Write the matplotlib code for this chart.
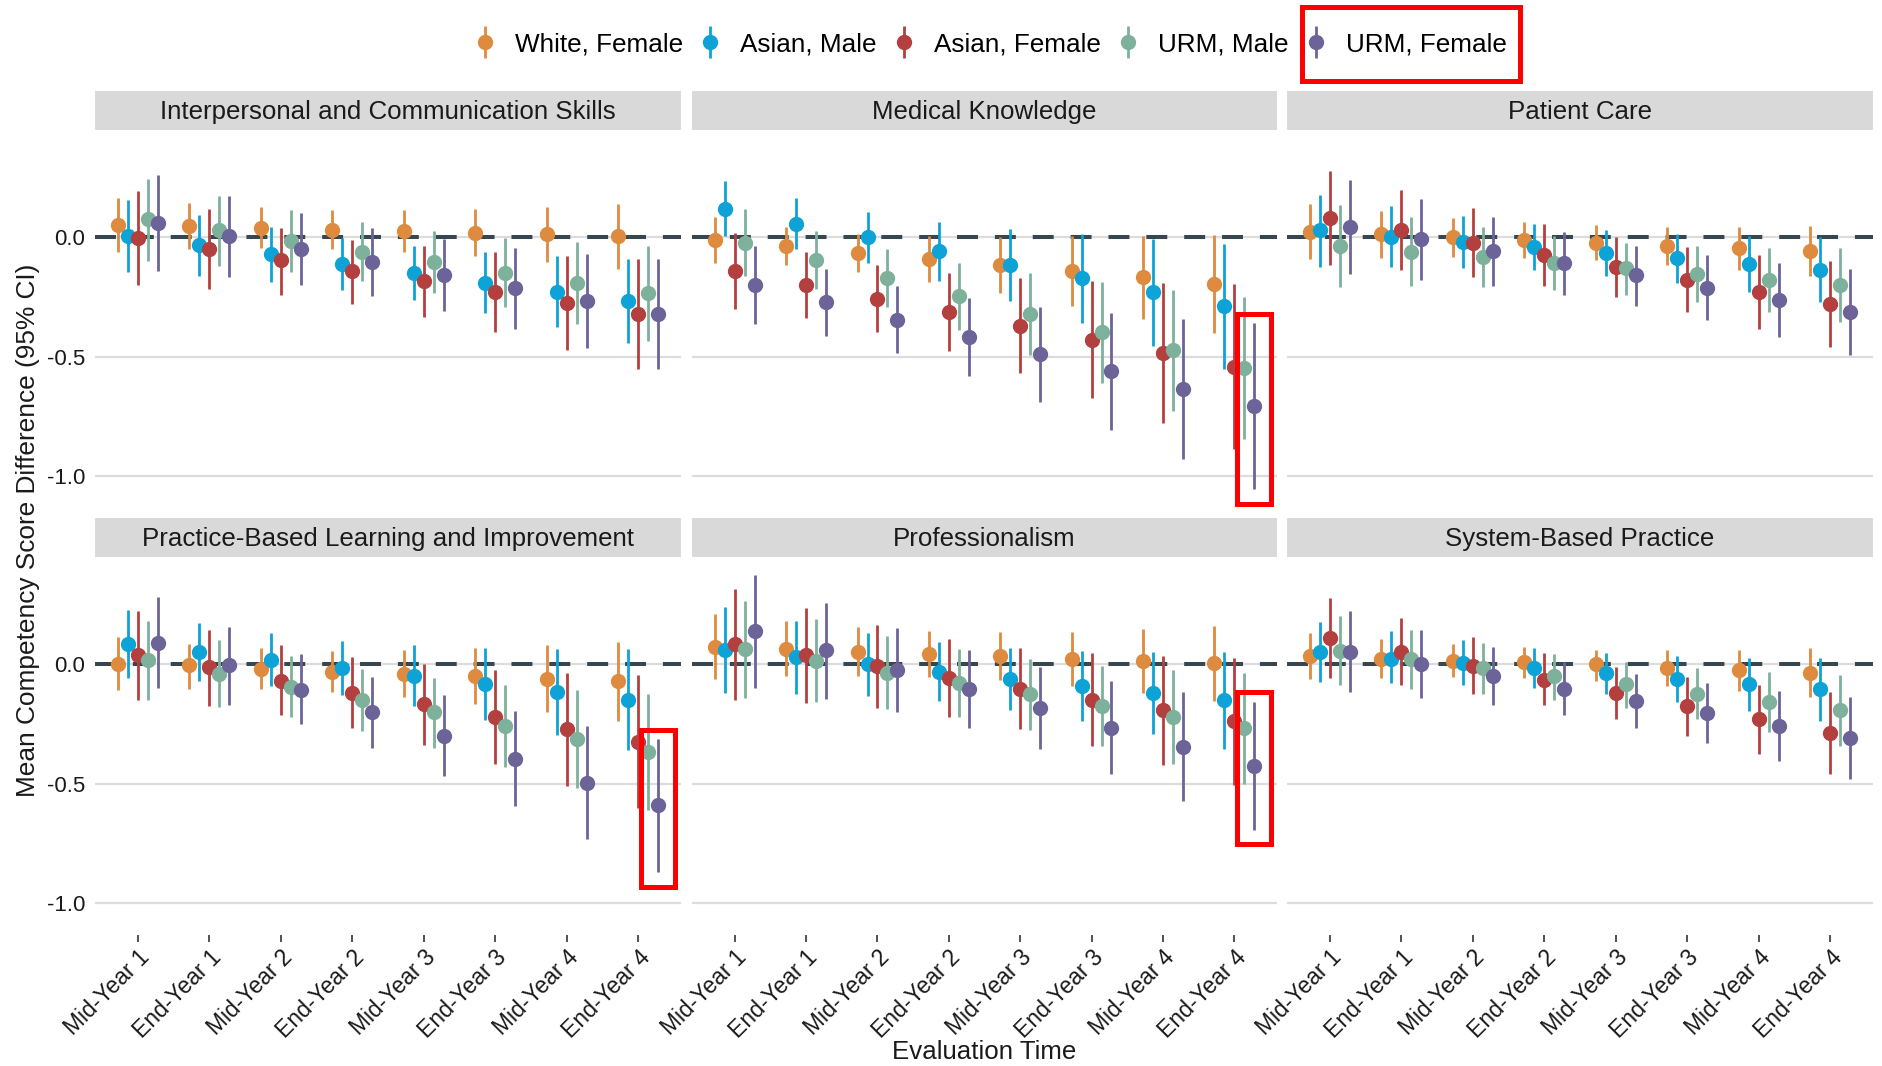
import numpy as np
import matplotlib
matplotlib.use("Agg")
import matplotlib.pyplot as plt
from matplotlib.patches import Rectangle
from matplotlib.container import ErrorbarContainer
from matplotlib.legend_handler import HandlerErrorbar

plt.rcParams['font.family'] = ['Liberation Sans', 'DejaVu Sans']

# categories / groups
times = ['Mid-Year 1', 'End-Year 1', 'Mid-Year 2', 'End-Year 2',
         'Mid-Year 3', 'End-Year 3', 'Mid-Year 4', 'End-Year 4']
groups = ['White, Female', 'Asian, Male', 'Asian, Female', 'URM, Male', 'URM, Female']
colors = ['#DE8B3F', '#0EA3D7', '#B3403F', '#7EB19B', '#6C6399']
competencies = ['Interpersonal and Communication Skills', 'Medical Knowledge', 'Patient Care',
                'Practice-Based Learning and Improvement', 'Professionalism', 'System-Based Practice']
highlight = ['Medical Knowledge', 'Practice-Based Learning and Improvement', 'Professionalism']

# Interpersonal and Communication Skills (rows = groups, cols = times)
ics_est = [[0.052, 0.046, 0.039, 0.032, 0.027, 0.018, 0.013, 0.006],
           [0.006, -0.032, -0.070, -0.112, -0.151, -0.190, -0.229, -0.267],
           [-0.004, -0.047, -0.095, -0.140, -0.184, -0.230, -0.274, -0.320],
           [0.075, 0.029, -0.017, -0.061, -0.103, -0.148, -0.191, -0.235],
           [0.060, 0.004, -0.049, -0.103, -0.156, -0.212, -0.267, -0.321]]
ics_lo = [[-0.063, -0.050, -0.046, -0.049, -0.061, -0.080, -0.103, -0.131],
          [-0.144, -0.161, -0.186, -0.219, -0.263, -0.317, -0.377, -0.441],
          [-0.201, -0.216, -0.240, -0.281, -0.332, -0.397, -0.471, -0.550],
          [-0.099, -0.120, -0.147, -0.183, -0.235, -0.293, -0.362, -0.434],
          [-0.140, -0.165, -0.200, -0.246, -0.307, -0.383, -0.465, -0.553]]
ics_hi = [[0.166, 0.145, 0.126, 0.115, 0.113, 0.117, 0.127, 0.141],
          [0.156, 0.095, 0.042, -0.001, -0.036, -0.061, -0.077, -0.091],
          [0.194, 0.120, 0.040, -0.010, -0.035, -0.061, -0.078, -0.089],
          [0.243, 0.175, 0.115, 0.063, 0.027, -0.001, -0.021, -0.035],
          [0.260, 0.175, 0.102, 0.039, -0.007, -0.043, -0.070, -0.091]]

# Medical Knowledge
mk_est = [[-0.011, -0.038, -0.064, -0.091, -0.117, -0.142, -0.168, -0.194],
          [0.117, 0.057, 0.000, -0.059, -0.116, -0.172, -0.230, -0.288],
          [-0.142, -0.200, -0.257, -0.313, -0.372, -0.429, -0.486, -0.542],
          [-0.022, -0.096, -0.172, -0.246, -0.321, -0.397, -0.472, -0.547],
          [-0.200, -0.272, -0.345, -0.418, -0.490, -0.561, -0.635, -0.708]]
mk_lo = [[-0.106, -0.117, -0.145, -0.186, -0.235, -0.286, -0.344, -0.399],
         [0.007, -0.047, -0.106, -0.182, -0.267, -0.359, -0.454, -0.552],
         [-0.302, -0.337, -0.395, -0.475, -0.570, -0.673, -0.779, -0.888],
         [-0.162, -0.218, -0.293, -0.388, -0.494, -0.609, -0.728, -0.846],
         [-0.362, -0.413, -0.486, -0.581, -0.690, -0.809, -0.930, -1.056]]
mk_hi = [[0.084, 0.042, 0.014, 0.006, 0.000, 0.005, 0.006, 0.008],
         [0.237, 0.163, 0.105, 0.066, 0.035, 0.014, -0.008, -0.027],
         [0.017, -0.060, -0.117, -0.151, -0.172, -0.183, -0.191, -0.196],
         [0.119, 0.025, -0.050, -0.108, -0.151, -0.187, -0.219, -0.249],
         [-0.038, -0.134, -0.205, -0.256, -0.290, -0.317, -0.342, -0.360]]

# Patient Care
pc_est = [[0.024, 0.013, 0.001, -0.011, -0.024, -0.035, -0.046, -0.059],
          [0.029, 0.003, -0.020, -0.041, -0.066, -0.088, -0.112, -0.135],
          [0.082, 0.032, -0.022, -0.074, -0.123, -0.179, -0.228, -0.279],
          [-0.036, -0.061, -0.082, -0.108, -0.130, -0.154, -0.177, -0.200],
          [0.043, -0.007, -0.059, -0.109, -0.159, -0.211, -0.263, -0.313]]
pc_lo = [[-0.092, -0.087, -0.084, -0.087, -0.096, -0.115, -0.137, -0.162],
         [-0.122, -0.123, -0.127, -0.138, -0.161, -0.190, -0.230, -0.272],
         [-0.116, -0.138, -0.166, -0.203, -0.249, -0.311, -0.383, -0.459],
         [-0.207, -0.205, -0.208, -0.219, -0.242, -0.271, -0.311, -0.356],
         [-0.155, -0.177, -0.204, -0.240, -0.288, -0.348, -0.418, -0.494]]
pc_hi = [[0.138, 0.109, 0.082, 0.064, 0.050, 0.043, 0.042, 0.046],
         [0.177, 0.131, 0.089, 0.056, 0.031, 0.013, 0.004, 0.003],
         [0.279, 0.198, 0.123, 0.057, 0.000, -0.042, -0.074, -0.099],
         [0.134, 0.085, 0.042, 0.006, -0.022, -0.038, -0.043, -0.043],
         [0.242, 0.162, 0.087, 0.021, -0.034, -0.075, -0.109, -0.133]]

# Practice-Based Learning and Improvement
pbli_est = [[0.001, -0.004, -0.021, -0.031, -0.041, -0.047, -0.060, -0.071],
            [0.085, 0.052, 0.020, -0.015, -0.047, -0.081, -0.115, -0.148],
            [0.038, -0.010, -0.068, -0.119, -0.168, -0.222, -0.271, -0.324],
            [0.017, -0.042, -0.094, -0.149, -0.201, -0.258, -0.313, -0.369],
            [0.091, -0.004, -0.106, -0.201, -0.300, -0.398, -0.496, -0.591]]
pbli_lo = [[-0.108, -0.102, -0.103, -0.115, -0.137, -0.165, -0.200, -0.236],
           [-0.059, -0.071, -0.092, -0.127, -0.176, -0.232, -0.296, -0.359],
           [-0.151, -0.176, -0.212, -0.268, -0.338, -0.419, -0.510, -0.601],
           [-0.148, -0.179, -0.221, -0.278, -0.349, -0.429, -0.518, -0.610],
           [-0.101, -0.169, -0.251, -0.352, -0.468, -0.595, -0.732, -0.872]]
pbli_hi = [[0.113, 0.085, 0.067, 0.057, 0.060, 0.070, 0.080, 0.094],
           [0.230, 0.175, 0.130, 0.098, 0.080, 0.070, 0.066, 0.066],
           [0.225, 0.145, 0.080, 0.032, 0.000, -0.024, -0.036, -0.046],
           [0.182, 0.102, 0.035, -0.018, -0.056, -0.085, -0.108, -0.126],
           [0.281, 0.158, 0.043, -0.052, -0.130, -0.196, -0.258, -0.313]]

# Professionalism
prof_est = [[0.074, 0.066, 0.054, 0.045, 0.035, 0.024, 0.014, 0.004],
            [0.060, 0.032, 0.001, -0.032, -0.061, -0.089, -0.120, -0.151],
            [0.085, 0.038, -0.008, -0.056, -0.102, -0.148, -0.191, -0.239],
            [0.063, 0.014, -0.034, -0.078, -0.126, -0.175, -0.221, -0.268],
            [0.141, 0.059, -0.022, -0.103, -0.184, -0.265, -0.346, -0.425]]
prof_lo = [[-0.063, -0.050, -0.047, -0.052, -0.064, -0.089, -0.119, -0.155],
           [-0.119, -0.122, -0.131, -0.155, -0.190, -0.239, -0.293, -0.353],
           [-0.151, -0.161, -0.183, -0.219, -0.272, -0.341, -0.420, -0.507],
           [-0.142, -0.158, -0.186, -0.222, -0.275, -0.342, -0.418, -0.501],
           [-0.098, -0.144, -0.198, -0.268, -0.355, -0.458, -0.573, -0.694]]
prof_hi = [[0.211, 0.180, 0.155, 0.138, 0.134, 0.135, 0.147, 0.159],
           [0.240, 0.183, 0.133, 0.094, 0.070, 0.056, 0.053, 0.052],
           [0.317, 0.236, 0.165, 0.108, 0.068, 0.046, 0.035, 0.028],
           [0.265, 0.189, 0.120, 0.063, 0.022, -0.007, -0.025, -0.035],
           [0.376, 0.258, 0.154, 0.060, -0.010, -0.071, -0.116, -0.156]]

# System-Based Practice
sbp_est = [[0.036, 0.024, 0.015, 0.008, 0.001, -0.014, -0.025, -0.034],
           [0.053, 0.024, 0.007, -0.015, -0.036, -0.061, -0.081, -0.105],
           [0.110, 0.054, -0.006, -0.064, -0.119, -0.176, -0.230, -0.289],
           [0.057, 0.021, -0.015, -0.050, -0.084, -0.122, -0.156, -0.190],
           [0.054, 0.000, -0.050, -0.102, -0.154, -0.205, -0.257, -0.310]]
sbp_lo = [[-0.063, -0.056, -0.054, -0.059, -0.070, -0.089, -0.112, -0.137],
          [-0.073, -0.077, -0.085, -0.101, -0.123, -0.158, -0.194, -0.237],
          [-0.059, -0.088, -0.126, -0.172, -0.230, -0.300, -0.377, -0.461],
          [-0.088, -0.103, -0.122, -0.148, -0.184, -0.230, -0.285, -0.344],
          [-0.115, -0.141, -0.172, -0.214, -0.268, -0.331, -0.404, -0.482]]
sbp_hi = [[0.133, 0.108, 0.085, 0.073, 0.060, 0.060, 0.060, 0.067],
          [0.179, 0.138, 0.101, 0.070, 0.046, 0.035, 0.028, 0.027],
          [0.277, 0.193, 0.116, 0.049, -0.010, -0.052, -0.085, -0.117],
          [0.203, 0.144, 0.089, 0.045, 0.011, -0.014, -0.032, -0.043],
          [0.223, 0.144, 0.073, 0.010, -0.039, -0.078, -0.110, -0.137]]

panel_data = [(ics_est, ics_lo, ics_hi), (mk_est, mk_lo, mk_hi), (pc_est, pc_lo, pc_hi),
              (pbli_est, pbli_lo, pbli_hi), (prof_est, prof_lo, prof_hi), (sbp_est, sbp_lo, sbp_hi)]

W, H = 1883, 1066
fig = plt.figure(figsize=(W / 100, H / 100), dpi=100)
fig.patch.set_facecolor('white')

# layout in pixels (left, right) per column, (top, bottom) per row
cols = [(95, 681), (692, 1277), (1287, 1873)]
rows = [(130, 508), (557, 935)]
strip_h = 39

dodge = 0.14
x = np.arange(len(times))
handles = None

for k, name in enumerate(competencies):
    r, c = divmod(k, 3)
    x0, x1 = cols[c]
    top, bot = rows[r]
    ax = fig.add_axes([x0 / W, 1 - bot / H, (x1 - x0) / W, (bot - top) / H])
    sax = fig.add_axes([x0 / W, 1 - top / H, (x1 - x0) / W, strip_h / H])
    sax.set_facecolor('#D9D9D9')
    sax.set_xticks([]); sax.set_yticks([])
    for s in sax.spines.values():
        s.set_visible(False)
    sax.text(0.5, 0.45, name, ha='center', va='center', fontsize=18.6, color='#1a1a1a',
             transform=sax.transAxes)

    est, lo, hi = [np.array(a) for a in panel_data[k]]
    for g in [0.0, -0.5, -1.0]:
        ax.axhline(g, color='#DCDCDC', lw=1.6, zorder=0)
    ax.axhline(0, color='#37474F', lw=2.9, ls=(0, (5.2, 4.2)), zorder=1)

    hs = []
    for i in range(len(groups)):
        xi = x + (i - 2) * dodge
        h = ax.errorbar(xi, est[i], yerr=[est[i] - lo[i], hi[i] - est[i]], fmt='o',
                        color=colors[i], ms=10, elinewidth=2.0, capsize=0,
                        zorder=3 + i, label=groups[i])
        hs.append(h)
    handles = hs

    if name in highlight:
        i = len(groups) - 1
        j = len(times) - 1
        xc = x[j] + (i - 2) * dodge
        ax.add_patch(Rectangle((xc - 0.24, lo[i][j] - 0.06), 0.48, hi[i][j] - lo[i][j] + 0.10,
                               fill=False, ec='#FF0000', lw=3.6, zorder=10, clip_on=False))

    ax.set_xlim(-0.6, 7.6)
    ax.set_ylim(-1.134, 0.45)
    ax.set_yticks([0.0, -0.5, -1.0])
    for s in ax.spines.values():
        s.set_visible(False)
    if c == 0:
        ax.set_yticklabels(['0.0', '-0.5', '-1.0'], fontsize=16, color='#1a1a1a')
        ax.tick_params(axis='y', length=0, pad=7)
    else:
        ax.tick_params(axis='y', length=0, labelleft=False)
    if r == 1:
        ax.set_xticks(x)
        ax.set_xticklabels(times, rotation=45, ha='right', rotation_mode='anchor',
                           fontsize=16.5, color='#1a1a1a')
        ax.tick_params(axis='x', length=5, width=1.2, color='#333333', pad=3)
    else:
        ax.set_xticks([])

fig.text(28 / W, 1 - 530 / H, 'Mean Competency Score Difference (95% CI)', rotation=90,
         ha='center', va='center', fontsize=18.9, color='#1a1a1a')
fig.text(984 / W, 1 - 1052 / H, 'Evaluation Time', ha='center', va='center',
         fontsize=18.6, color='#1a1a1a')

leg = fig.legend(handles, groups, loc='center', bbox_to_anchor=(990 / W, 1 - 44 / H),
                 ncol=5, frameon=False, fontsize=18.8, handlelength=0.9, handletextpad=0.7,
                 columnspacing=0.6,
                 handler_map={ErrorbarContainer: HandlerErrorbar(yerr_size=0.6)})

# red box round the last legend entry
fig.canvas.draw()
bb = leg.get_texts()[-1].get_window_extent()
yc = (bb.y0 + bb.y1) / 2
fig.patches.append(Rectangle(((bb.x0 - 44) / W, (yc - 37) / H), (bb.x1 - bb.x0 + 57) / W, 74 / H,
                             fill=False, ec='#FF0000', lw=3.6, transform=fig.transFigure,
                             figure=fig))

fig.savefig('out.png', dpi=100)
